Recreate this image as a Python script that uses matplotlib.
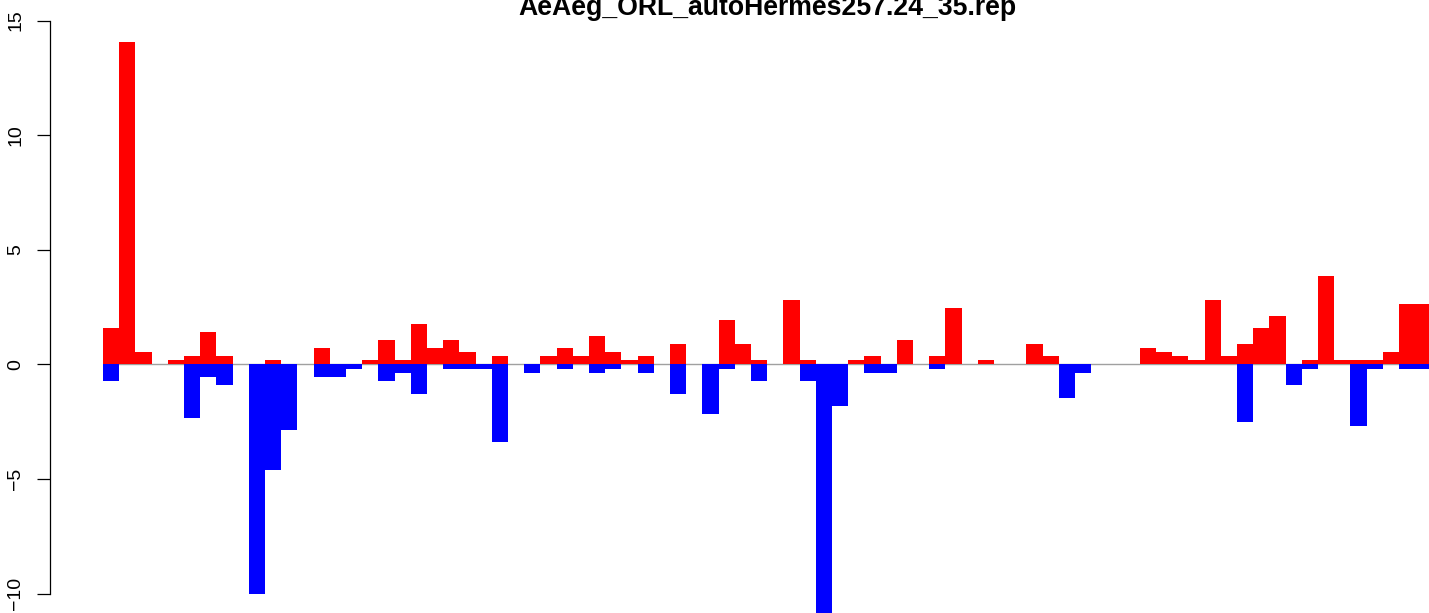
"""Barras por posição: sinal positivo em vermelho, negativo em azul (estilo barplot do R)."""

import matplotlib

matplotlib.use("Agg")
import matplotlib.pyplot as plt  # noqa: E402
import numpy as np  # noqa: E402

TITLE = "AeAeg_ORL_autoHermes257.24_35.rep"

# valores, um por posição (82 posições)
POS_VALUES = [
    1.60, 14.07, 0.54, 0.00, 0.19, 0.36, 1.41, 0.36, 0.00, 0.00,
    0.19, 0.00, 0.00, 0.71, 0.00, 0.00, 0.19, 1.06, 0.19, 1.76,
    0.71, 1.06, 0.54, 0.00, 0.36, 0.00, 0.00, 0.36, 0.71, 0.36,
    1.24, 0.54, 0.19, 0.36, 0.00, 0.89, 0.00, 0.00, 1.93, 0.89,
    0.19, 0.00, 2.81, 0.19, 0.00, 0.00, 0.19, 0.36, 0.00, 1.06,
    0.00, 0.36, 2.46, 0.00, 0.19, 0.00, 0.00, 0.89, 0.36, 0.00,
    0.00, 0.00, 0.00, 0.00, 0.71, 0.54, 0.36, 0.19, 2.81, 0.36,
    0.89, 1.59, 2.11, 0.00, 0.19, 3.85, 0.19, 0.19, 0.19, 0.54,
    2.63, 2.63,
]
NEG_VALUES = [
    -0.73, 0.00, 0.00, 0.00, 0.00, -2.34, -0.55, -0.90, 0.00, -10.04,
    -4.60, -2.86, 0.00, -0.55, -0.55, -0.20, 0.00, -0.73, -0.38, -1.29,
    0.00, -0.20, -0.20, -0.20, -3.39, 0.00, -0.38, 0.00, -0.20, 0.00,
    -0.38, -0.20, 0.00, -0.38, 0.00, -1.29, 0.00, -2.17, -0.20, 0.00,
    -0.73, 0.00, 0.00, -0.73, -11.00, -1.82, 0.00, -0.38, -0.38, 0.00,
    0.00, -0.20, 0.00, 0.00, 0.00, 0.00, 0.00, 0.00, 0.00, -1.47,
    -0.38, 0.00, 0.00, 0.00, 0.00, 0.00, 0.00, 0.00, 0.00, 0.00,
    -2.52, 0.00, 0.00, -0.90, -0.20, 0.00, 0.00, -2.69, -0.20, 0.00,
    -0.20, -0.20,
]
Y_TICKS = [-10, -5, 0, 5, 10, 15]

RED, BLUE, ZERO_LINE = "#ff0000", "#0000ff", "#a0a0a0"

plt.rcParams.update(
    {
        "font.family": ["Liberation Sans", "DejaVu Sans"],
        "axes.unicode_minus": True,
    }
)

W, H = 1429, 613
fig = plt.figure(figsize=(W / 100, H / 100), dpi=100)
ax = fig.add_axes([50 / W, 0, (W - 50) / W, 1])

x = np.arange(len(POS_VALUES))
ax.bar(x, POS_VALUES, width=1.0, color=RED, linewidth=0, zorder=2)
ax.bar(x, NEG_VALUES, width=1.0, color=BLUE, linewidth=0, zorder=3)
ax.hlines(0, -0.5, len(x) - 0.5, color=ZERO_LINE, linewidth=1.0, zorder=1)

# escala em pixels: 16.2 px por barra, 22.92 px por unidade, zero em y=364.3
ax.set_xlim(-0.5 - 53 / 16.2, -0.5 + (W - 103) / 16.2)
ax.set_ylim((364.3 - H) / 22.92, 364.3 / 22.92)

for side in ("top", "right", "bottom"):
    ax.spines[side].set_visible(False)
ax.spines["left"].set_bounds(Y_TICKS[0], Y_TICKS[-1])
ax.spines["left"].set_linewidth(0.9)
ax.set_xticks([])
ax.set_yticks(Y_TICKS)
ax.tick_params(axis="y", direction="out", length=9.1, width=0.9,
               labelsize=14, pad=9.5, labelrotation=90)
for lab in ax.get_yticklabels():
    lab.set_va("center")
ax.set_facecolor("white")

fig.text(767.5 / W, 1 - 15 / H, TITLE, ha="center", va="baseline",
         fontsize=19.2, fontweight="bold")

fig.savefig("out.png", dpi=100, facecolor="white")
